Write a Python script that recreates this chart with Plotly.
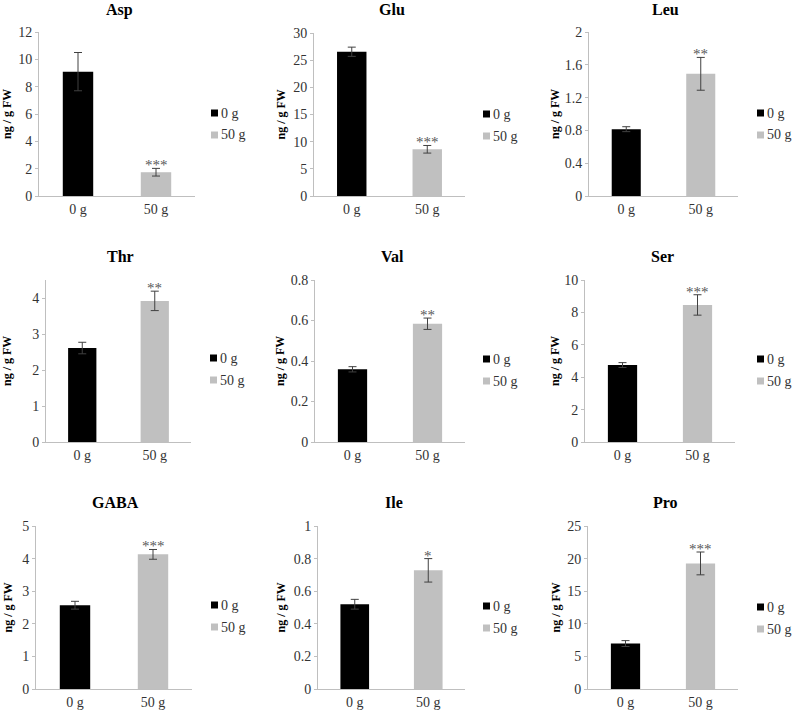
import plotly.graph_objects as go

W, H = 793, 715

amino_acids = ["Asp", "Glu", "Leu", "Thr", "Val", "Ser", "GABA", "Ile", "Pro"]
treatments = ["0 g", "50 g"]
values_0g = [9.1, 26.55, 0.815, 2.61, 0.359, 4.75, 2.57, 0.52, 6.97]
errors_0g = [1.4, 0.85, 0.03, 0.16, 0.013, 0.15, 0.12, 0.03, 0.45]
values_50g = [1.74, 8.6, 1.49, 3.92, 0.584, 8.46, 4.13, 0.728, 19.26]
errors_50g = [0.28, 0.7, 0.2, 0.27, 0.028, 0.63, 0.15, 0.072, 1.75]
significance = ["***", "***", "**", "**", "**", "***", "***", "*", "***"]
y_max = [12, 30, 2, 4.5, 0.8, 10, 5, 1, 25]
y_dtick = [2, 5, 0.4, 1, 0.2, 2, 1, 0.2, 5]
bar_colors = ["#000000", "#c0c0c0"]

# plot-area pixel boxes (x0, x1, ytop, ybottom)
boxes = [
    (39, 195, 32, 196), (314, 465, 33, 196), (589, 738, 32, 196),
    (46, 191, 280, 442), (315, 465, 280, 442), (585, 735, 280, 442),
    (36, 192, 526, 689), (318, 465, 526, 689), (588, 738, 526, 689),
]
# legend: left edge of swatch, centre y of first entry
legend_pos = [(211, 113), (483, 114), (757, 113),
              (210, 358), (483, 359), (757, 359),
              (211, 605), (483, 606), (757, 607)]
legend_step = 22
ytitle_x = [7, 280, 555, 7, 280, 555, 7, 280, 555]
title_y = [10, 10, 10, 256, 256, 256, 502, 502, 502]

SERIF = "Liberation Serif"
AXIS = "#bfbfbf"
TEXT = "#333333"

fig = go.Figure()
annotations = []
shapes = []
layout = {}

for i, name in enumerate(amino_acids):
    n = i + 1
    xa = "x" if n == 1 else f"x{n}"
    ya = "y" if n == 1 else f"y{n}"
    x0, x1, yt, yb = boxes[i]

    for t, vals, errs in ((0, values_0g, errors_0g), (1, values_50g, errors_50g)):
        fig.add_trace(go.Bar(
            x=[treatments[t]], y=[vals[i]], name=treatments[t],
            marker=dict(color=bar_colors[t], line=dict(width=0)),
            error_y=dict(type="data", array=[errs[i]], color="#404040",
                         thickness=1, width=4),
            xaxis=xa, yaxis=ya, width=0.39, showlegend=False,
        ))

    xkey = "xaxis" if n == 1 else f"xaxis{n}"
    ykey = "yaxis" if n == 1 else f"yaxis{n}"
    layout[xkey] = dict(
        domain=[x0 / W, x1 / W], anchor=ya, automargin=False,
        categoryorder="array", categoryarray=treatments,
        showline=True, linecolor=AXIS, linewidth=1,
        ticks="", showgrid=False, zeroline=False,
        tickfont=dict(family=SERIF, size=14, color=TEXT),
        fixedrange=True,
    )
    layout[ykey] = dict(
        domain=[1 - yb / H, 1 - yt / H], anchor=xa, automargin=False,
        range=[0, y_max[i]], dtick=y_dtick[i], tick0=0,
        showline=True, linecolor=AXIS, linewidth=1,
        ticks="outside", ticklen=3, tickcolor=AXIS,
        showgrid=False, zeroline=False,
        tickfont=dict(family=SERIF, size=14, color=TEXT),
        fixedrange=True,
    )

    # legend (swatch + label)
    lx, ly = legend_pos[i]
    for t in range(2):
        cy = ly + t * legend_step
        shapes.append(dict(
            type="rect", xref="paper", yref="paper",
            x0=lx / W, x1=(lx + 7) / W, y0=1 - (cy + 3.5) / H, y1=1 - (cy - 3.5) / H,
            fillcolor=bar_colors[t], line=dict(width=0),
        ))
        annotations.append(dict(
            x=(lx + 8) / W, y=1 - cy / H, xref="paper", yref="paper",
            text=treatments[t], showarrow=False, xanchor="left", yanchor="middle",
            font=dict(family=SERIF, size=14, color=TEXT),
        ))

    # significance asterisks
    annotations.append(dict(
        x=treatments[1], y=values_50g[i] + errors_50g[i], xref=xa, yref=ya,
        text=significance[i], showarrow=False, yanchor="bottom", yshift=-7,
        font=dict(family=SERIF, size=15, color="#595959"),
    ))
    # panel title
    annotations.append(dict(
        x=((x0 + x1) / 2 + 2) / W, y=1 - title_y[i] / H, xref="paper", yref="paper",
        text=f"<b>{name}</b>", showarrow=False, xanchor="center", yanchor="middle",
        font=dict(family=SERIF, size=16, color="#000000"),
    ))
    # y-axis title
    annotations.append(dict(
        x=ytitle_x[i] / W, y=1 - ((yt + yb) / 2) / H, xref="paper", yref="paper",
        text="<b>ng / g FW</b>", showarrow=False, textangle=-90,
        xanchor="center", yanchor="middle",
        font=dict(family=SERIF, size=12, color="#000000"),
    ))

fig.update_layout(
    template="none",
    width=W, height=H,
    margin=dict(l=0, r=0, t=0, b=0, pad=0),
    paper_bgcolor="white", plot_bgcolor="white",
    barmode="overlay", showlegend=False,
    font=dict(family=SERIF),
    annotations=annotations, shapes=shapes,
    **layout,
)

fig.write_html(
    "out.html",
    config={"displayModeBar": False, "staticPlot": True},
    post_script="document.body.style.margin='0';document.body.style.padding='0';",
)
